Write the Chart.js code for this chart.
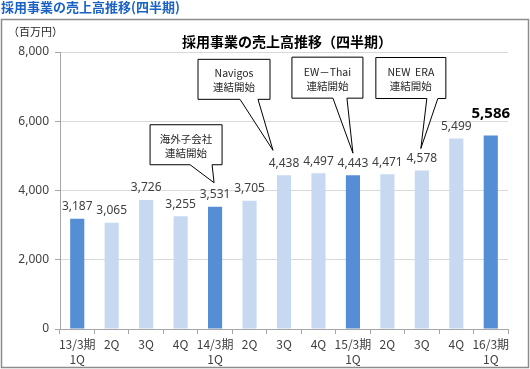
<!DOCTYPE html>
<html>
<head>
<meta charset="utf-8">
<script src="https://cdn.jsdelivr.net/npm/chart.js@4.4.1/dist/chart.umd.min.js"></script>
<style>
  html, body { margin: 0; padding: 0; background: #fff; }
  #wrap { position: relative; width: 530px; height: 369px; }
  canvas { display: block; }
</style>
</head>
<body>
<div id="wrap"><canvas id="c" width="530" height="369"></canvas></div>
<script>
// ---- data ----
const categories = [
  ['13/3期', '1Q'], '2Q', '3Q', '4Q',
  ['14/3期', '1Q'], '2Q', '3Q', '4Q',
  ['15/3期', '1Q'], '2Q', '3Q', '4Q',
  ['16/3期', '1Q']
];
const sales = [3187, 3065, 3726, 3255, 3531, 3705, 4438, 4497, 4443, 4471, 4578, 5499, 5586];
const firstQuarter = [true, false, false, false, true, false, false, false, true, false, false, false, true];
const yTicks = [0, 2000, 4000, 6000, 8000];
const pageTitle = '採用事業の売上高推移(四半期)';
const chartTitle = '採用事業の売上高推移（四半期）';
const unitLabel = '（百万円）';
const calloutIndex = [4, 6, 8, 10];
const calloutText = [
  ['海外子会社', '連結開始'],
  ['Navigos', '連結開始'],
  ['EW－Thai', '連結開始'],
  ['NEW\u00A0\u00A0ERA', '連結開始']
];

// ---- styles ----
const DARK = '#558ED5';
const LIGHT = '#C6D9F1';
const FONT = '"Noto Sans", "Noto Sans CJK JP", sans-serif';
const JFONT = '"Noto Sans CJK JP", "Noto Sans", sans-serif';
// callout geometry relative to tip (tip relative to bar centre / value)
const calloutGeom = [
  { tdx: -1,  tdy: -24, l: -64, r: 8,  t: -58, b: -18, p1: -24, p2: -2 },
  { tdx: -11, tdy: -25, l: -75, r: -3, t: -91, b: -51, p1: -33, p2: -15 },
  { tdx: 0,   tdy: -22, l: -61, r: 10, t: -96, b: -55, p1: -20, p2: -6 },
  { tdx: -1,  tdy: -22, l: -45, r: 25, t: -91, b: -50, p1: 6,   p2: 17 }
];

const fmt = v => v.toLocaleString('en-US');

const decor = {
  id: 'decor',
  beforeDraw(chart) {
    const ctx = chart.ctx;
    ctx.save();
    ctx.fillStyle = '#fff';
    ctx.fillRect(0, 0, chart.width, chart.height);
    // outer frame
    ctx.strokeStyle = '#8C8C8C';
    ctx.lineWidth = 1.5;
    ctx.strokeRect(1.5, 19.5, 527, 348);
    // page title
    ctx.fillStyle = '#1A62C4';
    ctx.font = 'bold 13px ' + JFONT;
    ctx.textAlign = 'left';
    ctx.textBaseline = 'middle';
    ctx.fillText(pageTitle, 1, 7);
    // chart title
    ctx.fillStyle = '#000';
    ctx.font = 'bold 14px ' + JFONT;
    ctx.textAlign = 'center';
    ctx.fillText(chartTitle, 287, 42);
    // unit
    ctx.fillStyle = '#262626';
    ctx.font = '11px ' + JFONT;
    ctx.textAlign = 'left';
    ctx.fillText(unitLabel, 8, 32);
    ctx.restore();
  },
  afterDatasetsDraw(chart) {
    const ctx = chart.ctx;
    const meta = chart.getDatasetMeta(0);
    const xs = chart.scales.x, ys = chart.scales.y;
    ctx.save();
    // data labels
    ctx.textAlign = 'center';
    ctx.textBaseline = 'middle';
    meta.data.forEach((bar, i) => {
      const last = i === sales.length - 1;
      ctx.fillStyle = last ? '#000' : '#404040';
      ctx.font = (last ? 'bold 15px ' : '12px ') + FONT;
      ctx.fillText(fmt(sales[i]), bar.x, bar.y - (last ? 22 : 12));
    });
    // callouts
    calloutIndex.forEach((idx, k) => {
      const g = calloutGeom[k];
      const tx = xs.getPixelForValue(idx) + g.tdx;
      const ty = ys.getPixelForValue(sales[idx]) + g.tdy;
      const L = tx + g.l, R = tx + g.r, T = ty + g.t, B = ty + g.b;
      ctx.beginPath();
      ctx.moveTo(L, T);
      ctx.lineTo(R, T);
      ctx.lineTo(R, B);
      ctx.lineTo(tx + g.p2, B);
      ctx.lineTo(tx, ty);
      ctx.lineTo(tx + g.p1, B);
      ctx.lineTo(L, B);
      ctx.closePath();
      ctx.fillStyle = '#fff';
      ctx.fill();
      ctx.strokeStyle = '#000';
      ctx.lineWidth = 1;
      ctx.stroke();
      ctx.fillStyle = '#262626';
      ctx.font = '10.5px ' + JFONT;
      const cx = (L + R) / 2, cy = (T + B) / 2;
      ctx.fillText(calloutText[k][0], cx, cy - 6);
      ctx.fillText(calloutText[k][1], cx, cy + 8);
    });
    ctx.restore();
  }
};

new Chart(document.getElementById('c'), {
  type: 'bar',
  data: {
    labels: categories,
    datasets: [{
      data: sales,
      backgroundColor: firstQuarter.map(f => f ? DARK : LIGHT),
      borderWidth: 0,
      barPercentage: 0.41,
      categoryPercentage: 1.0
    }]
  },
  options: {
    responsive: false,
    devicePixelRatio: 1,
    animation: false,
    layout: { padding: { top: 52, right: 22, left: 0, bottom: 0 } },
    plugins: { legend: { display: false }, tooltip: { enabled: false }, title: { display: false } },
    scales: {
      x: {
        afterFit(s) { s.height = 40; },
        grid: { display: true, drawOnChartArea: false, drawTicks: true, tickLength: 5, color: '#A6A6A6', offset: true },
        border: { display: true, color: '#A6A6A6' },
        ticks: { color: '#404040', font: { family: JFONT, size: 12, lineHeight: 1.25 }, padding: 3, maxRotation: 0, autoSkip: false }
      },
      y: {
        min: 0, max: 8000,
        afterFit(s) { s.width = 60; },
        afterBuildTicks(s) { s.ticks = yTicks.map(v => ({ value: v })); },
        grid: { color: '#D9D9D9', tickLength: 5, tickColor: '#A6A6A6' },
        border: { display: true, color: '#A6A6A6' },
        ticks: { color: '#404040', font: { family: FONT, size: 12 }, padding: 6, callback: v => fmt(v) }
      }
    }
  },
  plugins: [decor]
});
</script>
</body>
</html>
